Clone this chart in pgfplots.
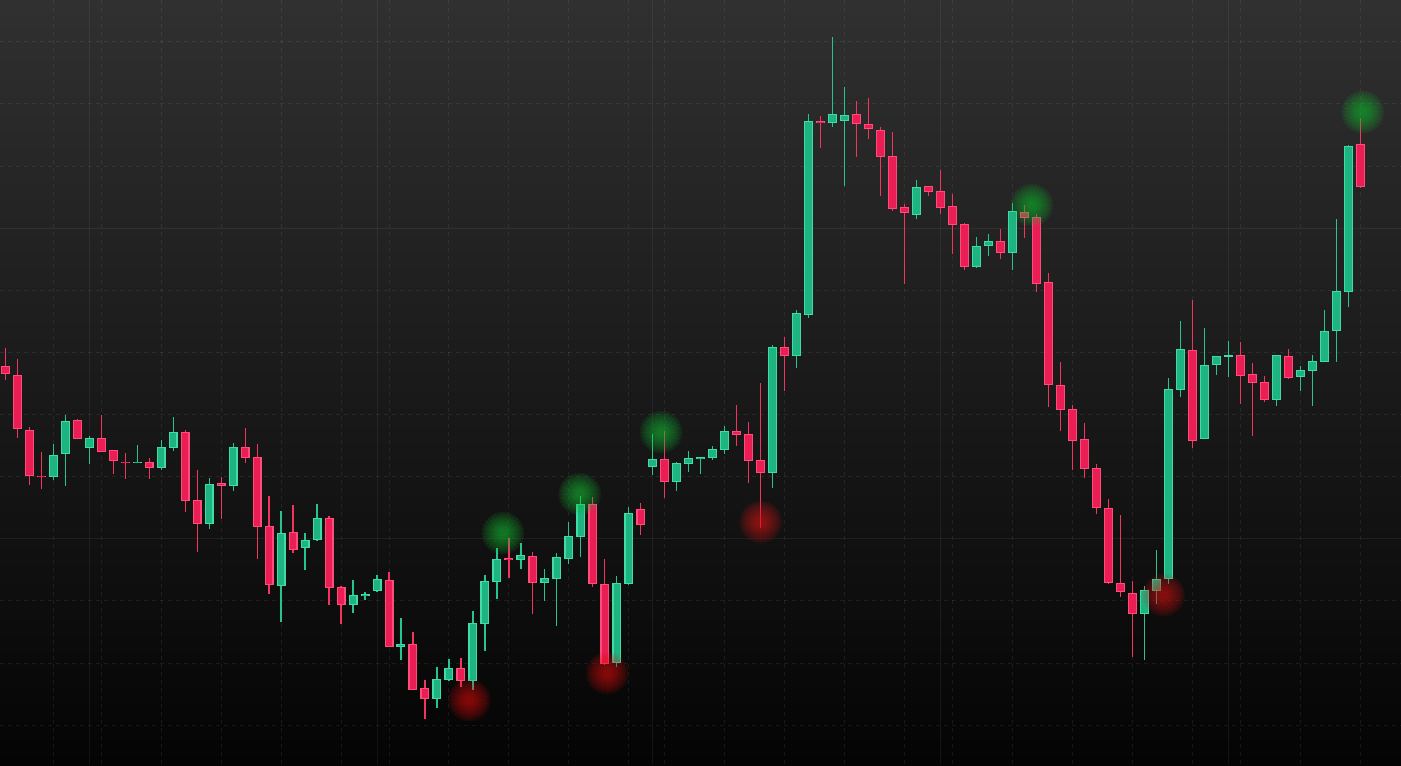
\documentclass[border=0pt]{standalone}
\usepackage{pgfplots}
\pgfplotsset{compat=1.18}
\usepackage{pgfplotstable}

\definecolor{bgtop}{HTML}{303030}
\definecolor{bgbot}{HTML}{040404}
\definecolor{upwick}{HTML}{27C48F}
\definecolor{upedge}{HTML}{3FDCA6}
\definecolor{upfill}{HTML}{1DB482}
\definecolor{dnwick}{HTML}{F5335F}
\definecolor{dnedge}{HTML}{FF4C7B}
\definecolor{dnfill}{HTML}{EA1E55}
\definecolor{glowg}{HTML}{14C83C}
\definecolor{glowr}{HTML}{E61414}

% candles, in chart units (screen rows, growing downwards)
\pgfplotstableread{
i hi top bot lo
4 444 455.3 476.7 479.7
5 415 421 453.7 485.7
7 436.3 438 447.7 463.7
11 445 461.5 463 463
13 440 447 467.7 469.7
14 417 432 447.7 450.7
17 478 484 523.7 528.7
19 443 447 485.7 490.7
23 511 533 585.7 621.7
25 533 540 547.7 569.7
26 504 518 539.7 540.7
29 580 595 604.7 612.7
30 591.7 594 595.8 599.7
31 574.7 579 590.7 591.7
33 618 644 646.7 659.7
36 666.7 679 698.7 707.7
37 658.7 668 680 681
39 611 623 680.7 690
40 575 581 623.7 650.7
41 548 559 581.7 599
43 543 555 559.7 569
45 569 578 582.7 600.7
46 553 557 578.7 625.7
47 522 536 558.7 563.7
48 496 504 536.7 556.7
51 576 583 662.7 666.7
52 507 513 583.7 584.7
54 434 459 466.7 475
56 462 463 481.7 490.7
57 451 458 463.7 471.7
58 457.3 457.3 459 473.7
59 446 449.3 457.7 460
60 426 431.3 449.7 453.7
64 345 347.3 473.3 487.7
66 310 313.3 355.7 367.7
67 114 121 315 317.7
69 37 114.3 122.7 126.7
70 87 115.3 120.7 185.7
76 180 187.3 214.7 218.7
81 237 246.3 266.7 267.7
82 234 241.3 245.7 255.7
84 203 211.3 252.7 269.7
95 586 590.3 614.3 659.7
96 550 579 590.7 603.7
97 378 389.3 579.3 584.3
98 321 349.3 390.3 396.7
100 328 365.3 438.7 438.7
101 356 356.3 365.3 374.7
102 341 355.3 357.3 376.7
106 355.3 355.3 399.7 405.7
108 366.3 370.3 376.7 390.7
109 355.3 361.3 370.7 405.7
110 310 331.3 361.7 361.7
111 219 291.3 330.7 361.7
112 145.3 146.3 291.7 306.7
}\upcandles

\pgfplotstableread{
i hi top bot lo
0 348 366 374.3 379.7
1 359 375 429.3 437.7
2 427.3 430 476.3 484.7
3 452 475.5 477 488.7
6 419 420 438.7 438.7
8 415 438 451.7 451.7
9 450 450 460.7 473.7
10 453 461.5 463 478.7
12 458 462.3 468.3 478.7
15 430 432 500.7 511.7
16 470 500 523.7 551.7
18 477 483 485.7 518.7
20 428 447 457.7 462.7
21 444 457 526.7 558.7
22 496 526 584.7 593.7
24 505 532 549.7 552.7
27 516 518 587.7 604.7
28 586 587 604.7 623.7
32 572 580 646.7 646.7
34 632 644 689.7 689.7
35 680 688 698.7 718.7
38 657.7 668 680.7 686.7
42 538 558.3 560 577.7
44 552 556 582.7 613.7
49 497 504 583.7 586.7
50 559 584 663.7 665
53 503 509 524.7 534.7
55 431 459 481.7 497.7
61 405 431.3 434.7 445.7
62 422 434.3 460.7 482.7
63 383 460.3 473.3 527.7
65 337 347.3 355.7 390.7
68 116 121 122.7 147.7
71 101 114.3 123.7 156.7
72 98 124.3 129.3 138.7
73 127.3 130.3 156.7 195.7
74 132 156.3 208.7 210.7
75 204 207.3 212.7 283.7
77 186.3 186.3 191.7 195.7
78 170 191.3 207.7 213.7
79 194 206.3 224.7 253.7
80 223.3 224.3 266.7 269.7
83 229 241.3 252.7 258.7
85 205 212.3 217.7 237.7
86 214 217.3 283.7 291.7
87 273 282.3 384.7 406.7
88 362 385.3 409.7 430.7
89 405 409.3 440.7 469.7
90 423 439.3 469.3 477.7
91 464 468.3 508.3 513.7
92 499 508.3 582.7 583.7
93 515 583.3 592.3 597.3
94 581 593.3 614.3 656.7
99 300 350.3 440.7 447.7
103 342 355.3 375.7 403.7
104 363 374.3 382.7 435.7
105 376 382.3 399.7 401.7
107 349 356.3 377.7 378.7
113 118.3 144.3 186.7 187.7
}\dncandles

% signal glows
\pgfplotstableread{
x y
41.5 533
47.9 494
54.7 432
85.6 205
113.2 112
}\greenglow

\pgfplotstableread{
x y
38.7 700
50.2 673
63.0 522
96.6 595
}\redglow

\pgfplotsset{
  wick/.style={draw=none, no markers, forget plot,
    error bars/.cd, y dir=plus, y explicit, error mark=none,
    error bar style={line width=1.2pt, draw=#1}},
  body/.style n args={3}{draw=none, no markers, forget plot,
    error bars/.cd, y dir=plus, y explicit, error mark=none,
    error bar style={line width=#1, draw=#2, shorten <=#3, shorten >=#3}},
  glow/.style={only marks, mark=*, forget plot,
    mark options={#1, line width=0pt, opacity=0.042}},
}

\begin{document}
\begin{tikzpicture}
  \begin{axis}[
      width=1401pt, height=765pt, scale only axis,
      xmin=-0.442, xmax=116.4,
      ymin=0, ymax=765, y dir=reverse,
      axis line style={draw=none},
      axis background/.style={top color=bgtop, bottom color=bgbot},
      xtick={4,8,13,18,23,28,32,37,42,47,52,55,60,65,70,75,79,84,89,94,99,103,108,113},
      ytick={42,104,166,290,352,414,476,600,663,725},
      xticklabels={}, yticklabels={},
      major tick length=0pt,
      grid=major,
      major grid style={white, opacity=0.07, line width=1pt, dash pattern=on 4pt off 4pt},
      extra x ticks={7,31,54,78,102},
      extra y ticks={228,538},
      extra x tick labels={}, extra y tick labels={},
      extra tick style={grid=major,
        major grid style={white, opacity=0.06, line width=1pt, solid}},
    ]

    % wicks
    \addplot[wick=upwick] table[x=i, y=hi, y error plus expr=\thisrow{lo}-\thisrow{hi}] {\upcandles};
    \addplot[wick=dnwick] table[x=i, y=hi, y error plus expr=\thisrow{lo}-\thisrow{hi}] {\dncandles};

    % bodies: edge, then fill
    \addplot[body={9pt}{upedge}{0pt}] table[x=i, y=top, y error plus expr=\thisrow{bot}-\thisrow{top}] {\upcandles};
    \addplot[body={6.6pt}{upfill}{1pt}] table[x=i, y=top, y error plus expr=\thisrow{bot}-\thisrow{top}] {\upcandles};
    \addplot[body={9pt}{dnedge}{0pt}] table[x=i, y=top, y error plus expr=\thisrow{bot}-\thisrow{top}] {\dncandles};
    \addplot[body={6.6pt}{dnfill}{1pt}] table[x=i, y=top, y error plus expr=\thisrow{bot}-\thisrow{top}] {\dncandles};

    % glows, many faint layers
    \pgfplotsinvokeforeach{3,4,...,21}{
      \addplot[glow=glowg, mark size=#1pt] table[x=x, y=y] {\greenglow};
      \addplot[glow=glowr, mark size=#1pt] table[x=x, y=y] {\redglow};
    }
  \end{axis}
  \pgfresetboundingbox
  \path[use as bounding box] (current axis.south west) rectangle (current axis.north east);
\end{tikzpicture}
\end{document}
